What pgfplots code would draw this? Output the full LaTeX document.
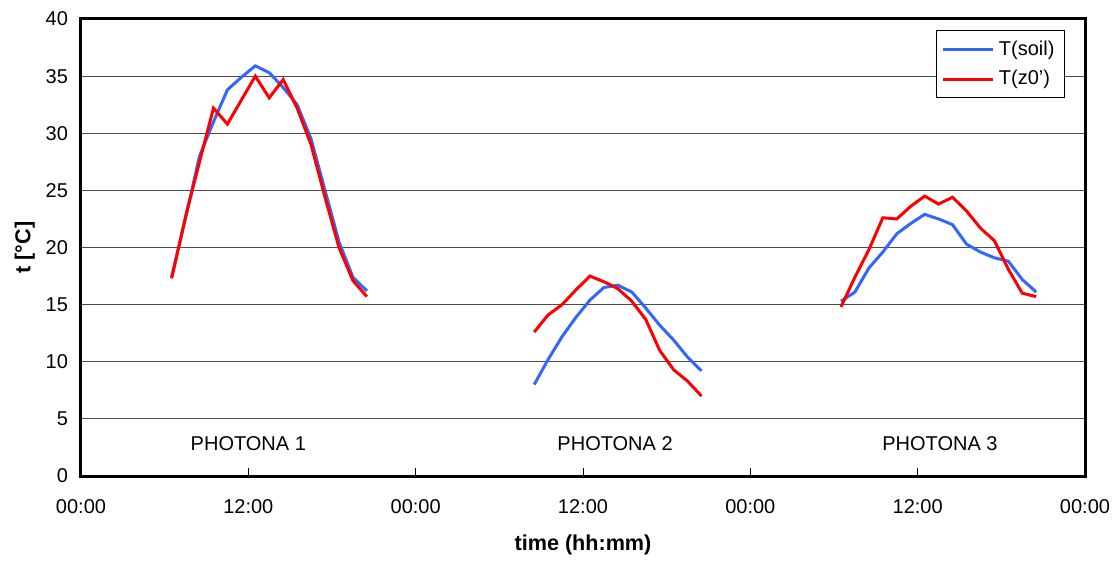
\documentclass[border=0pt]{standalone}
\usepackage{fontspec}
\setmainfont{Liberation Sans}
\usepackage{pgfplots}
\pgfplotsset{compat=1.18}
\definecolor{soilblue}{RGB}{51,102,255}
\definecolor{zred}{RGB}{255,0,0}

\begin{document}
\begin{tikzpicture}
\begin{axis}[
  scale only axis,
  width=502pt, height=228.5pt,
  xmin=0, xmax=72, ymin=0, ymax=40,
  xtick={0,12,...,72},
  xticklabels={00:00,12:00,00:00,12:00,00:00,12:00,00:00},
  ytick={0,5,...,40},
  /pgf/number format/assume math mode=true,
  tick label style={font=\fontsize{10}{12}\selectfont},
  xtick pos=bottom, ytick pos=left,
  tick align=inside,
  major tick length=4pt,
  ytick style={draw=none},
  xtick style={black, line width=0.4pt},
  xticklabel style={yshift=-8pt},
  yticklabel style={xshift=-3pt},
  ymajorgrids,
  grid style={black!70, line width=0.5pt},
  axis line style={black, line width=1.5pt},
  xlabel={\textbf{time (hh:mm)}},
  ylabel={\textbf{t [°C]}},
  label style={font=\fontsize{10.8}{13}\selectfont},
  xlabel style={yshift=-4pt},
  ylabel style={yshift=-1.5pt},
  unbounded coords=jump,
  clip=false,
  legend style={at={(0.980,0.975)}, anchor=north east, draw=black, line width=0.4pt,
    font=\fontsize{10}{12}\selectfont, row sep=2pt, inner sep=3pt},
  legend cell align=left,
  legend image code/.code={\draw[#1] (0pt,0pt) -- (25pt,0pt);},
]
\addplot[soilblue, line width=1.5pt] coordinates {
(6.5,17.4)(7.5,22.6)(8.5,28.0)(9.5,31.0)(10.5,33.8)(11.5,34.9)(12.5,35.9)(13.5,35.3)
(14.5,34.0)(15.5,32.5)(16.5,29.5)(17.5,25.0)(18.5,20.5)(19.5,17.4)(20.5,16.2)
(26,nan)
(32.5,8.0)(33.5,10.2)(34.5,12.2)(35.5,13.9)(36.5,15.4)(37.5,16.5)(38.5,16.7)(39.5,16.1)
(40.5,14.7)(41.5,13.2)(42.5,11.9)(43.5,10.4)(44.5,9.2)
(50,nan)
(54.5,15.3)(55.5,16.1)(56.5,18.2)(57.5,19.6)(58.5,21.2)(59.5,22.1)(60.5,22.9)(61.5,22.5)
(62.5,22.0)(63.5,20.3)(64.5,19.6)(65.5,19.1)(66.5,18.8)(67.5,17.2)(68.5,16.1)
};
\addlegendentry{T(soil)}
\addplot[zred, line width=1.5pt] coordinates {
(6.5,17.3)(7.5,22.7)(8.5,27.5)(9.5,32.2)(10.5,30.8)(11.5,32.9)(12.5,35.0)(13.5,33.1)
(14.5,34.7)(15.5,32.2)(16.5,29.0)(17.5,24.4)(18.5,20.0)(19.5,17.1)(20.5,15.7)
(26,nan)
(32.5,12.6)(33.5,14.1)(34.5,15.0)(35.5,16.3)(36.5,17.5)(37.5,17.0)(38.5,16.4)(39.5,15.3)
(40.5,13.7)(41.5,11.0)(42.5,9.3)(43.5,8.3)(44.5,7.0)
(50,nan)
(54.5,14.8)(55.5,17.4)(56.5,19.8)(57.5,22.6)(58.5,22.5)(59.5,23.6)(60.5,24.5)(61.5,23.8)
(62.5,24.4)(63.5,23.2)(64.5,21.7)(65.5,20.6)(66.5,18.1)(67.5,16.0)(68.5,15.7)
};
\addlegendentry{T(z0')}
\node[font=\fontsize{10}{12}\selectfont] at (axis cs:12,2.8) {PHOTONA 1};
\node[font=\fontsize{10}{12}\selectfont] at (axis cs:38.3,2.8) {PHOTONA 2};
\node[font=\fontsize{10}{12}\selectfont] at (axis cs:61.6,2.8) {PHOTONA 3};
% page margins as in the reference
\path (rel axis cs:0,0) ++(-40.5pt,-41pt);
\path (rel axis cs:1,1) ++(16.5pt,9.5pt);
\end{axis}
\end{tikzpicture}
\end{document}
